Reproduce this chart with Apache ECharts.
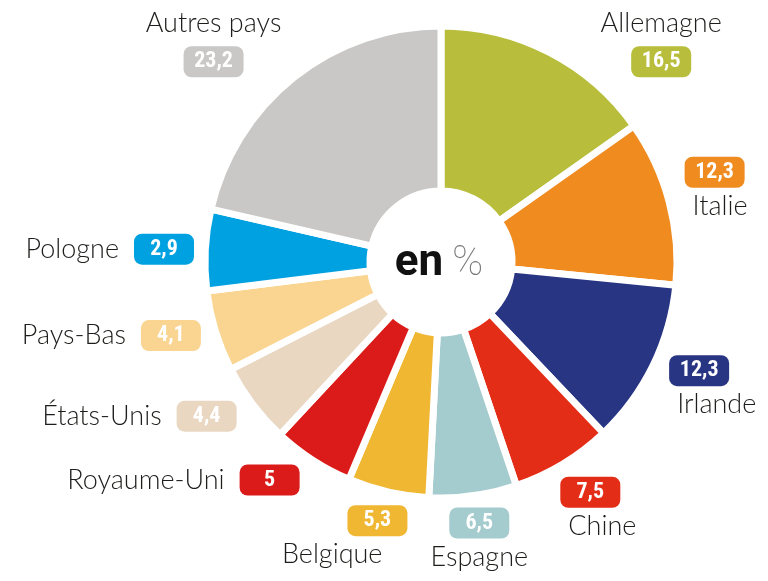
<!DOCTYPE html>
<html>
<head>
<meta charset="utf-8">
<script src="https://cdn.jsdelivr.net/npm/echarts@6/dist/echarts.min.js"></script>
<style>
html, body { margin: 0; padding: 0; background: #ffffff; }
#chart { width: 768px; height: 581px; }
</style>
</head>
<body>
<div id="chart"></div>
<script>
// ---- data (clockwise from 12 o'clock) ----
const countries = ['Allemagne', 'Italie', 'Irlande', 'Chine', 'Espagne', 'Belgique',
                   'Royaume-Uni', 'États-Unis', 'Pays-Bas', 'Pologne', 'Autres pays'];
const shares = [16.5, 12.3, 12.3, 7.5, 6.5, 5.3, 5, 4.4, 4.1, 2.9, 23.2];
const centerWord = 'en';
const centerUnit = '%';

// ---- styling (kept apart from the data) ----
const palette = ['#b8be3b', '#f08b1f', '#283583', '#e42d17', '#a4cbcd', '#f0b733',
                 '#db1b19', '#e9d7c2', '#f9d591', '#00a1e0', '#c9c8c6'];
const NAME_FONT = 'Lato, Roboto, "Noto Sans", sans-serif';
const BADGE_FONT = '"Roboto Condensed", "Liberation Sans Narrow", "DejaVu Sans Condensed", Roboto, sans-serif';
const BADGE_W = 60;
const BADGE_SIZE = 22;

const chart = echarts.init(document.getElementById('chart'), null, { renderer: 'canvas' });

function frNumber(v) { return String(v).replace('.', ','); }

const measureCtx = document.createElement('canvas').getContext('2d');
function badgeTextWidth(txt) {
  measureCtx.font = 'bold ' + BADGE_SIZE + 'px ' + BADGE_FONT;
  return measureCtx.measureText(txt).width;
}

function itemLayout(i) {
  try { return chart.getModel().getSeriesByIndex(0).getData().getItemLayout(i); }
  catch (e) { return null; }
}

// mid angle of a slice, degrees clockwise from 12 o'clock
function midAngle(i) {
  const l = itemLayout(i);
  let a;
  if (l && isFinite(l.startAngle)) {
    a = (l.startAngle + l.endAngle) / 2 * 180 / Math.PI + 90;
  } else {
    const total = shares.reduce((s, v) => s + v, 0);
    let before = 0;
    for (let k = 0; k < i; k++) before += shares[k];
    a = (before + shares[i] / 2) / total * 360;
  }
  return ((a % 360) + 360) % 360;
}

// 'A' name over badge, 'BL'/'BC'/'BR' badge over name (left/centre/right aligned), 'C' one line
function labelKind(i) {
  const a = midAngle(i);
  if (a >= 300 || a < 55) return 'A';
  if (a < 165) return 'BL';
  if (a < 186) return 'BC';
  if (a < 200) return 'BR';
  return 'C';
}

const nameBase = { fontFamily: NAME_FONT, fontWeight: 300, fontSize: 27, color: '#1d1d1b', lineHeight: 35 };
const rich = {
  na: Object.assign({}, nameBase, { align: 'center', lineHeight: 44 }),
  nc: Object.assign({ align: 'center' }, nameBase),
  nl: Object.assign({ align: 'left' }, nameBase),
  nr: Object.assign({ align: 'right' }, nameBase),
  s: { width: 15 },
  il: { width: 8, align: 'left' },
  ir: { width: 25, align: 'right' }
};
palette.forEach((c, i) => {
  const txt = frNumber(shares[i]);
  const side = Math.max(0, (BADGE_W - badgeTextWidth(txt)) / 2);
  const base = {
    fontFamily: BADGE_FONT, fontWeight: 'bold', fontSize: BADGE_SIZE, color: '#ffffff',
    backgroundColor: c, borderRadius: 8, height: 31, lineHeight: 33
  };
  rich['b' + i + 'c'] = Object.assign({ width: BADGE_W, align: 'center' }, base);
  rich['b' + i + 'l'] = Object.assign({ padding: [0, side], align: 'left' }, base);
  rich['b' + i + 'r'] = Object.assign({ padding: [0, side], align: 'right' }, base);
});

function labelText(p) {
  const i = p.dataIndex;
  const kind = labelKind(i);
  const v = frNumber(p.value);
  switch (kind) {
    case 'A':  return '{na|' + p.name + '}\n{b' + i + 'c|' + v + '}';
    case 'BL': return '{b' + i + 'l|' + v + '}\n{il|}{nl|' + p.name + '}';
    case 'BC': return '{b' + i + 'c|' + v + '}\n{nc|' + p.name + '}';
    case 'BR': return '{b' + i + 'r|' + v + '}\n{nr|' + p.name + '}{ir|}';
    default:   return '{nc|' + p.name + '}{s|}{b' + i + 'c|' + v + '}';
  }
}

// put each label just outside its slice, along the slice's mid direction
function placeLabel(params) {
  const i = params.dataIndex;
  const l = itemLayout(i);
  if (!l) return {};
  const W = chart.getWidth(), H = chart.getHeight();
  const w = params.labelRect.width, h = params.labelRect.height;
  const m = (l.startAngle + l.endAngle) / 2;
  const ux = Math.cos(m), uy = Math.sin(m);
  const kind = labelKind(i);
  // offset from the label-box centre to the point that sits on the slice's mid ray
  let ox = 0;
  if (kind === 'C') ox = ux < 0 ? w / 2 : -w / 2;
  else if (kind === 'BL') ox = -(w / 2 - BADGE_W / 2);
  else if (kind === 'BR') ox = w / 2 - BADGE_W / 2;
  const target = l.r + 11;
  const dist = (x, y) => {
    const px = Math.max(x - w / 2, Math.min(l.cx, x + w / 2));
    const py = Math.max(y - h / 2, Math.min(l.cy, y + h / 2));
    return Math.hypot(px - l.cx, py - l.cy);
  };
  const solve = f => {
    let lo = 0, hi = 1000;
    for (let k = 0; k < 50; k++) { const t = (lo + hi) / 2; if (f(t) < target) lo = t; else hi = t; }
    return hi;
  };
  const t = solve(t => dist(l.cx + ux * t - ox, l.cy + uy * t));
  let x = l.cx + ux * t - ox, y = l.cy + uy * t;
  const padTop = 6, padBottom = 4, padSide = 4;
  const yc = Math.min(Math.max(y, padTop + h / 2), H - padBottom - h / 2);
  if (Math.abs(yc - y) > 0.01) {
    y = yc;
    const s = ux >= 0 ? 1 : -1;
    const t2 = solve(t => dist(l.cx + s * (t + w / 2), y));
    const xs = l.cx + s * (t2 + w / 2);
    if (s * (xs - x) > 0) x = xs;
  }
  x = Math.min(Math.max(x, padSide + w / 2), W - padSide - w / 2);
  return { x: x, y: y, align: 'center', verticalAlign: 'middle' };
}

const seriesData = countries.map((name, i) => ({
  name: name,
  value: shares[i],
  itemStyle: { color: palette[i] }
}));

chart.setOption({
  animation: false,
  backgroundColor: '#ffffff',
  series: [{
    type: 'pie',
    center: [441, 262],
    radius: [71, 236],
    startAngle: 90,
    clockwise: true,
    minAngle: 20,
    avoidLabelOverlap: false,
    silent: true,
    itemStyle: { borderColor: '#ffffff', borderWidth: 7 },
    label: {
      show: true,
      position: 'outside',
      formatter: labelText,
      rich: rich
    },
    labelLine: { show: false },
    labelLayout: placeLabel,
    emphasis: { disabled: true },
    data: seriesData
  }],
  graphic: [{
    type: 'text',
    x: 439,
    y: 264,
    silent: true,
    style: {
      text: '{a|' + centerWord + '}{g|}{b|' + centerUnit + '}',
      align: 'center',
      verticalAlign: 'middle',
      rich: {
        a: { fontFamily: 'Roboto, sans-serif', fontWeight: 'bold', fontSize: 44, fill: '#111111' },
        g: { width: 9 },
        b: { fontFamily: 'Roboto, sans-serif', fontWeight: 100, fontSize: 42, fill: '#7a7a7a' }
      }
    }
  }]
});
</script>
</body>
</html>
